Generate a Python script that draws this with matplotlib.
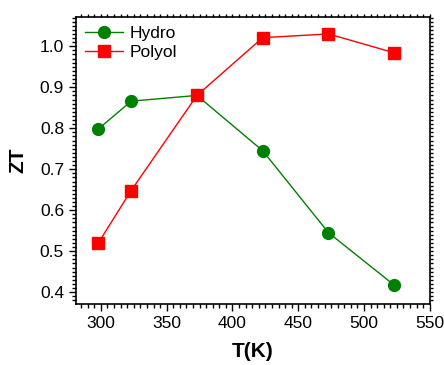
import matplotlib
matplotlib.use("Agg")
import matplotlib.pyplot as plt
from matplotlib.ticker import MultipleLocator, FormatStrFormatter

plt.rcParams['font.family'] = ['Liberation Sans', 'DejaVu Sans']

T = [298, 323, 373, 423, 473, 523]
hydro = [0.798, 0.866, 0.880, 0.745, 0.545, 0.417]
polyol = [0.520, 0.648, 0.880, 1.021, 1.030, 0.984]

fig = plt.figure(figsize=(4.44, 3.65), dpi=100)
ax = fig.add_axes([0.171, 0.167, 0.797, 0.786])

ax.plot(T, hydro, color='#008000', lw=1, marker='o', ms=8.5, label='Hydro')
ax.plot(T, polyol, color='#ff0000', lw=1, marker='s', ms=8, label='Polyol')

ax.set_xlim(281, 550)
ax.set_ylim(0.371, 1.071)
ax.xaxis.set_major_locator(MultipleLocator(50))
ax.xaxis.set_minor_locator(MultipleLocator(5))
ax.yaxis.set_major_locator(MultipleLocator(0.1))
ax.yaxis.set_minor_locator(MultipleLocator(0.01))
ax.yaxis.set_major_formatter(FormatStrFormatter('%.1f'))

ax.tick_params(axis='both', which='major', direction='out', length=5, width=1, labelsize=12.5)
ax.tick_params(axis='both', which='minor', direction='out', length=3, width=1)
ax.tick_params(top=True, right=True, which='both', labeltop=False, labelright=False)
for t in ax.xaxis.get_minor_ticks() + ax.xaxis.get_major_ticks():
    t.tick2line.set_markersize(2)
for t in ax.yaxis.get_minor_ticks() + ax.yaxis.get_major_ticks():
    t.tick2line.set_markersize(2)

for s in ax.spines.values():
    s.set_linewidth(1.2)

ax.set_xlabel('T(K)', fontsize=15, fontweight='bold', labelpad=8)
ax.set_ylabel('ZT', fontsize=15, fontweight='bold', labelpad=9)

ax.legend(loc='upper left', frameon=False, fontsize=12.5, handlelength=2.2,
          handletextpad=0.4, borderaxespad=0.1, labelspacing=0.25)

fig.savefig('out.png', dpi=100)
